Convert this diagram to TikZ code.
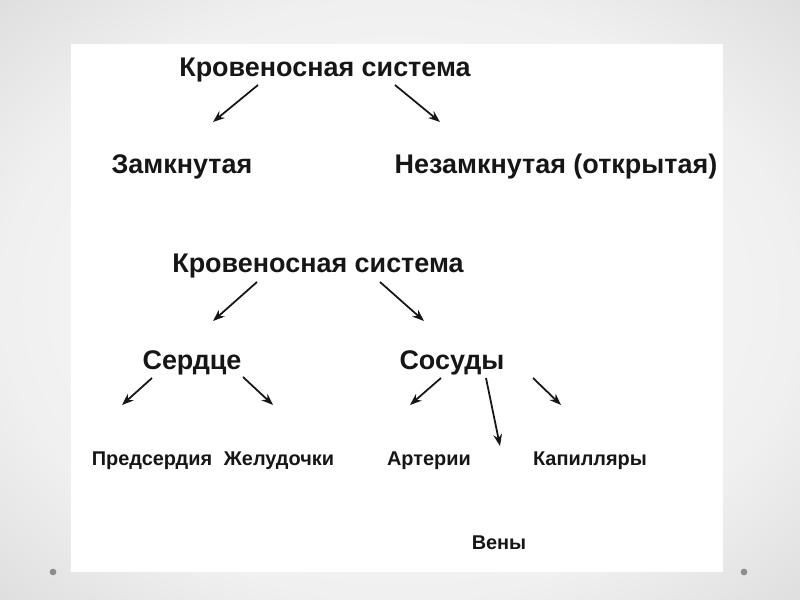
\documentclass[tikz,border=0pt]{standalone}
\usepackage{fontspec}
\setmainfont{Liberation Sans}
\usetikzlibrary{calc, arrows.meta}
\definecolor{ink}{RGB}{22,22,22}
\definecolor{dotgray}{RGB}{140,140,140}
\pgfdeclareradialshading{slidebg}{\pgfpoint{0bp}{0bp}}{%
  color(0bp)=(white); color(25bp)=(black!6); color(50bp)=(black!22);
  color(71bp)=(black!32)}

\tikzset{
  head/.style={font=\bfseries\fontsize{23}{26}\selectfont, text=ink, inner sep=1pt},
  leaf/.style={font=\bfseries\fontsize{17}{20}\selectfont, text=ink, inner sep=1pt},
  arr/.style={->, line width=1.5pt, draw=ink}
}

\begin{document}
\begin{tikzpicture}[x=0.03cm, y=-0.03cm, >={Stealth[length=10pt, width=7.5pt]}]
  % slide background with the white sheet
  \shade[shading=slidebg] (0,0) rectangle (800,600);
  \useasboundingbox (0,0) rectangle (800,600);
  \fill[white] (71,44) rectangle (723,572);
  \fill[dotgray] (53,572) circle (0.1cm);
  \fill[dotgray] (744,572) circle (0.1cm);

  % first scheme: closed or open
  \node[head] (sys1) at (325,70) {Кровеносная система};
  \node[head] (closed) at (182,167) {Замкнутая};
  \node[head] (open) at (556,167) {Незамкнутая (открытая)};
  \coordinate (toclosed) at (213,122);
  \coordinate (toopen) at (440,122);
  \draw[arr] ($(sys1)+(-67,15)$) -- (toclosed);
  \draw[arr] ($(sys1)+(70,15)$) -- (toopen);

  % second scheme: heart and vessels
  \node[head] (sys2) at (318,266) {Кровеносная система};
  \node[head] (heart) at (192,363) {Сердце};
  \node[head] (vessels) at (452,363) {Сосуды};
  \coordinate (toheart) at (213,321);
  \coordinate (tovessels) at (424,321);
  \draw[arr] ($(sys2)+(-61,16)$) -- (toheart);
  \draw[arr] ($(sys2)+(62,16)$) -- (tovessels);

  % parts of the heart
  \node[leaf] (atria) at (152,461) {Предсердия};
  \node[leaf] (ventricles) at (279,461) {Желудочки};
  \coordinate (toatria) at (122,405);
  \coordinate (toventricles) at (273,405);
  \draw[arr] ($(heart)+(-40,15)$) -- (toatria);
  \draw[arr] ($(heart)+(51,14)$) -- (toventricles);

  % kinds of vessels
  \node[leaf] (arteries) at (429,461) {Артерии};
  \node[leaf] (capillaries) at (590,461) {Капилляры};
  \node[leaf] (veins) at (499,543) {Вены};
  \coordinate (toarteries) at (410,405);
  \coordinate (toveins) at (500,446);
  \coordinate (tocapillaries) at (561,405);
  \draw[arr] ($(vessels)+(-11,15)$) -- (toarteries);
  \draw[arr] ($(vessels)+(34,15)$) -- (toveins);
  \draw[arr] ($(vessels)+(81,15)$) -- (tocapillaries);
\end{tikzpicture}
\end{document}
